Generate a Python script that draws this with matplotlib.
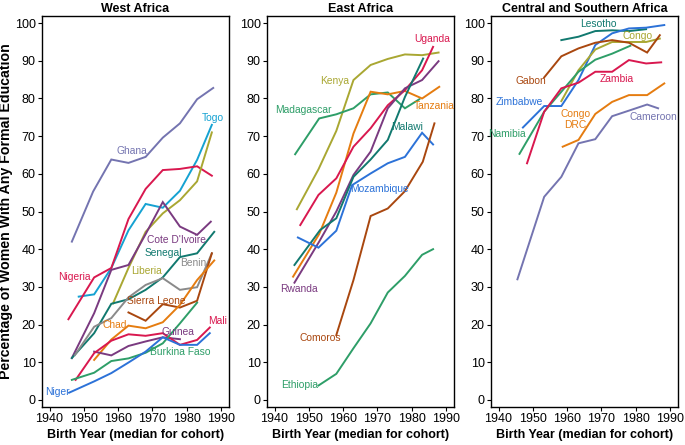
import matplotlib
matplotlib.use("Agg")
import matplotlib.pyplot as plt

plt.rcParams["font.family"] = ["Liberation Sans", "DejaVu Sans"]

# ======================================
# COLOURS
# ======================================
SLATE = "#7474b0"
CYAN = "#15a2d2"
RED = "#d9184f"
OLIVE = "#a9a732"
PURPLE = "#7a3a80"
TEAL = "#11796f"
GRAY = "#8a8a8a"
BROWN = "#a9470f"
ORANGE = "#e57c10"
GREEN = "#2e9e68"
BLUE = "#2c72d8"

# ======================================
# DATA
# ======================================
west_years = {
    "Ghana": [1946.5, 1952.7, 1958, 1963, 1968, 1973, 1978, 1983, 1987.7],
    "Togo": [1948.5, 1953, 1958, 1963, 1968, 1973, 1978, 1983, 1987.3],
    "Nigeria": [1945.5, 1953, 1958, 1963, 1968, 1973, 1978, 1983, 1987.3],
    "Liberia": [1958.5, 1963, 1968, 1973, 1978, 1983, 1987.3],
    "Cote D'Ivoire": [1946.5, 1953, 1958, 1963, 1968, 1973, 1978, 1983, 1987],
    "Senegal": [1946.5, 1953, 1958, 1963, 1968, 1973, 1978, 1983, 1988],
    "Benin": [1947.4, 1953, 1958, 1963, 1968, 1973, 1978, 1983, 1987.3],
    "Sierra Leone": [1963, 1968, 1973, 1978, 1983, 1987.3],
    "Chad": [1953, 1958, 1963, 1968, 1973, 1978, 1983, 1988],
    "Guinea": [1953, 1958, 1963, 1968, 1973, 1978],
    "Mali": [1947.6, 1953, 1958, 1963, 1968, 1973, 1978, 1983, 1986.7],
    "Burkina Faso": [1946.5, 1953, 1958, 1963, 1968, 1973, 1978, 1983],
    "Niger": [1945.7, 1953, 1958, 1963, 1968, 1973, 1978, 1983, 1986.7],
}
west_values = {
    "Ghana": [42, 55.3, 63.8, 62.9, 64.5, 69.6, 73.4, 79.8, 82.8],
    "Togo": [27.4, 28, 35, 45, 52, 51, 55.5, 63.7, 73],
    "Nigeria": [21.4, 32.5, 35, 48, 56, 61, 61.3, 62, 59.5],
    "Liberia": [25.6, 35, 44.6, 49.5, 53, 58, 71],
    "Cote D'Ivoire": [11.1, 23, 34.5, 35.8, 44, 52.5, 46, 43.8, 47.3],
    "Senegal": [11.1, 17.7, 25.5, 26.7, 29.2, 32.5, 37.9, 38.9, 44.6],
    "Benin": [11.9, 19.4, 21.7, 27.2, 30.5, 32.3, 29.2, 29.9, 38.9],
    "Sierra Leone": [23.2, 21, 25.4, 24.5, 26.3, 38.9],
    "Chad": [10.6, 16, 19.7, 19, 20.6, 25.2, 31.8, 37],
    "Guinea": [12.8, 11.8, 14.3, 15.5, 16.6, 16.1],
    "Mali": [5.3, 12.4, 15.7, 17.4, 17, 17.7, 14.6, 15.9, 19.2],
    "Burkina Faso": [5.3, 7.2, 10.3, 11, 12.5, 15, 20.3, 25.8],
    "Niger": [1.9, 4.9, 7.1, 9.9, 12.8, 16.6, 14.6, 14.6, 17.7],
}
west_colors = {
    "Ghana": SLATE, "Togo": CYAN, "Nigeria": RED, "Liberia": OLIVE,
    "Cote D'Ivoire": PURPLE, "Senegal": TEAL, "Benin": GRAY,
    "Sierra Leone": BROWN, "Chad": ORANGE, "Guinea": PURPLE,
    "Mali": RED, "Burkina Faso": GREEN, "Niger": BLUE,
}
west_labels = [
    ("Ghana", 1964, 66), ("Togo", 1987.7, 74.7), ("Cote D'Ivoire", 1977, 42.4),
    ("Senegal", 1973.1, 39.1), ("Benin", 1981.9, 36.4), ("Liberia", 1968.4, 34.3),
    ("Nigeria", 1947.1, 32.7), ("Sierra Leone", 1971.1, 26.3), ("Chad", 1959, 19.9),
    ("Guinea", 1977.5, 18), ("Mali", 1988.9, 20.8), ("Burkina Faso", 1978.2, 12.6),
    ("Niger", 1942.2, 2),
]

east_years = {
    "Kenya": [1946.5, 1952.8, 1958, 1963, 1968, 1973, 1978, 1983, 1987.8],
    "Madagascar": [1946, 1953, 1958, 1963, 1968, 1973, 1978, 1982.2],
    "Tanzania": [1945.4, 1953, 1958, 1963, 1968, 1973, 1978, 1983, 1988],
    "Uganda": [1947.5, 1952.8, 1958, 1963, 1968, 1973, 1978, 1983, 1986.2],
    "Rwanda": [1945.8, 1953, 1958, 1963, 1968, 1973, 1978, 1983, 1987.8],
    "Malawi": [1945.8, 1953.3, 1958, 1963, 1968, 1973, 1978, 1983.3],
    "Mozambique": [1946.8, 1952.8, 1958, 1962.6, 1968, 1973, 1978, 1983, 1986.2],
    "Comoros": [1958, 1963, 1968, 1973, 1978, 1983.2, 1986.6],
    "Ethiopia": [1952.8, 1958, 1963, 1968, 1973, 1978, 1983, 1986.2],
}
east_values = {
    "Kenya": [50.6, 61.2, 71.4, 84.9, 88.9, 90.5, 91.7, 91.5, 92.2],
    "Madagascar": [65.2, 74.7, 75.8, 77.4, 81.1, 81.6, 77.4, 79.8],
    "Tanzania": [32.7, 44, 55, 70.7, 81.8, 81.1, 82, 80, 83.1],
    "Uganda": [46.4, 54.4, 58.8, 67.2, 72.1, 78.2, 82.2, 87.5, 93.7],
    "Rwanda": [31.1, 42, 50, 59.7, 65.9, 77.4, 82.7, 84.9, 89.9],
    "Malawi": [35.8, 45.1, 48.2, 59.2, 63.8, 69, 80.4, 90.6],
    "Mozambique": [43.1, 40.4, 44.9, 57, 60.1, 62.8, 64.5, 70.9, 67.8],
    "Comoros": [17.2, 31.8, 48.8, 50.8, 55.4, 63.2, 73.4],
    "Ethiopia": [3.8, 6.9, 13.7, 20.3, 28.5, 32.9, 38.5, 40],
}
east_colors = {
    "Kenya": OLIVE, "Madagascar": GREEN, "Tanzania": ORANGE, "Uganda": RED,
    "Rwanda": PURPLE, "Malawi": TEAL, "Mozambique": BLUE, "Comoros": BROWN,
    "Ethiopia": GREEN,
}
east_labels = [
    ("Uganda", 1985.9, 95.7), ("Kenya", 1957.5, 84.7), ("Madagascar", 1948.3, 76.9),
    ("Tanzania", 1986.6, 78), ("Malawi", 1978.6, 72.5), ("Mozambique", 1970.5, 56),
    ("Rwanda", 1947, 29.4), ("Comoros", 1953.3, 16.4), ("Ethiopia", 1947.3, 4),
]

central_years = {
    "Lesotho": [1958.3, 1963.3, 1968.2, 1973.1, 1978, 1983],
    "Zimbabwe": [1947.1, 1953.3, 1958.3, 1963.3, 1968.2, 1973.1, 1978, 1983, 1988.3],
    "Congo": [1958.3, 1963.3, 1968.2, 1973.1, 1978, 1983, 1987],
    "Gabon": [1953.3, 1958.3, 1963.3, 1968.2, 1973.1, 1978, 1983.3, 1987],
    "Namibia": [1946.1, 1953.3, 1958.3, 1963.3, 1968.2, 1973.1, 1978.4],
    "Zambia": [1948.3, 1953.3, 1958.3, 1963.3, 1968.2, 1973.1, 1978, 1983, 1987.4],
    "Congo DRC": [1958.7, 1963.3, 1968.2, 1973.1, 1978, 1983.3, 1988.3],
    "Cameroon": [1945.5, 1953.3, 1958.3, 1963.3, 1968.2, 1973.1, 1978.4, 1983.3, 1986.5],
}
central_values = {
    "Lesotho": [95.5, 96.4, 97.9, 98.1, 97.9, 98.4],
    "Zimbabwe": [72.3, 78, 78, 84.9, 94.2, 97.3, 98.6, 98.8, 99.5],
    "Congo": [79.3, 87.5, 93, 95, 95, 95, 95.9],
    "Gabon": [85.6, 91.2, 93.3, 94.8, 95.5, 94.8, 92.2, 96.8],
    "Namibia": [65.3, 76.5, 81.8, 87.1, 90.3, 91.9, 94],
    "Zambia": [62.8, 76.5, 82.7, 84.2, 87.1, 87.1, 90.2, 89.3, 89.6],
    "Congo DRC": [67.2, 69, 75.9, 79.1, 80.9, 80.9, 84],
    "Cameroon": [32, 53.9, 59.2, 68.1, 69.2, 75.3, 76.9, 78.4, 77.4],
}
central_colors = {
    "Lesotho": TEAL, "Zimbabwe": BLUE, "Congo": OLIVE, "Gabon": BROWN,
    "Namibia": GREEN, "Zambia": RED, "Congo DRC": ORANGE, "Cameroon": SLATE,
}
central_labels = [
    ("Lesotho", 1969.2, 99.7), ("Congo", 1980.4, 96.6), ("Gabon", 1949.5, 84.6),
    ("Zambia", 1974.3, 85.1), ("Zimbabwe", 1946.1, 79), ("Congo DRC", 1962.4, 74.4),
    ("Cameroon", 1985.2, 75.1), ("Namibia", 1942.4, 70.5),
]

panels = [
    ("West Africa", west_years, west_values, west_colors, west_labels),
    ("East Africa", east_years, east_values, east_colors, east_labels),
    ("Central and Southern Africa", central_years, central_values, central_colors, central_labels),
]

# ======================================
# PLOT
# ======================================
fig = plt.figure(figsize=(6.85, 4.45), dpi=100)
lefts = [42 / 685, 267 / 685, 491 / 685]
width = 187 / 685
bottom = 1 - 407 / 445
height = (407 - 16) / 445

for i, (title, years, values, colors, labels) in enumerate(panels):
    ax = fig.add_axes([lefts[i], bottom, width, height])
    for name in years:
        ax.plot(years[name], values[name], color=colors[name], lw=1.4,
                solid_joinstyle="miter")
    for name, x, y in labels:
        text = "Congo\nDRC" if name == "Congo DRC" else name
        ax.text(x, y, text, color=colors[name], fontsize=7.4,
                ha="center", va="center", linespacing=1.1)

    ax.set_xlim(1937.8, 1992.3)
    ax.set_ylim(-1.9, 101.9)
    ax.set_xticks(range(1940, 1991, 10))
    ax.set_yticks(range(0, 101, 10))
    ax.tick_params(labelsize=9, length=3, width=0.8, pad=1.5)
    for s in ax.spines.values():
        s.set_linewidth(1.0)
    ax.set_title(title, fontsize=9, fontweight="bold", pad=3)
    ax.set_xlabel("Birth Year (median for cohort)", fontsize=9,
                  fontweight="bold", labelpad=3)
    if i == 0:
        ax.set_ylabel("Percentage of Women With Any Formal Education",
                      fontsize=10.2, fontweight="bold", labelpad=1)

fig.savefig("out.png", dpi=100)
